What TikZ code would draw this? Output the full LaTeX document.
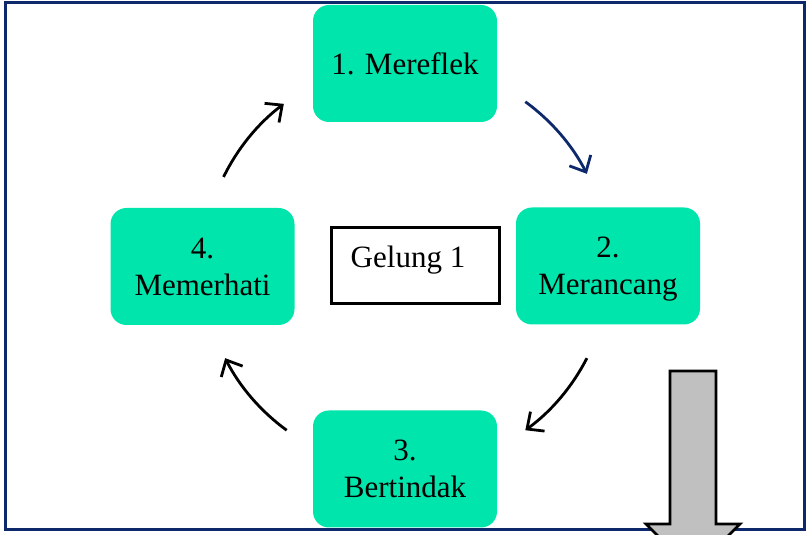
\documentclass[tikz,border=0pt]{standalone}
\usepackage{fontspec}
\setmainfont{Liberation Serif}
\usetikzlibrary{arrows.meta,calc}
\definecolor{boxgreen}{RGB}{0,229,172}
\definecolor{framenavy}{RGB}{14,40,108}
\definecolor{arrgray}{RGB}{192,192,192}
\begin{document}
\begin{tikzpicture}[x=1pt,y=1pt,
  stepbox/.style={draw=none, fill=boxgreen, rounded corners=16pt,
    minimum width=184pt, minimum height=117pt, inner sep=0pt,
    align=center, text depth=0pt, font=\fontsize{31}{37}\selectfont},
  labelfont/.style={font=\fontsize{31}{37}\selectfont},
  cyc/.style={line width=2.8pt, -{Straight Barb[length=13pt,width=24pt]}},
  ]
\useasboundingbox (0,0) rectangle (806,535);
% step boxes
\node[stepbox] (b1) at (405,471.5) {1. Mereflek};
\node[stepbox] (b2) at (608,269) {2.\\Merancang};
\node[stepbox] (b3) at (405,66) {3.\\Bertindak};
\node[stepbox] (b4) at (202.5,268.5) {4.\\Memerhati};
% centre box
\node[draw, line width=2.8pt, minimum width=168pt, minimum height=76pt, inner sep=0pt] (g) at (415.5,269.5) {};
\node[labelfont, anchor=base] (gt) at (408,267) {Gelung 1};
% cycle arrows
\coordinate (c) at (406,269);
\coordinate (a1) at ($(c)+(54:203)$);
\coordinate (a2) at ($(c)+(-27:203)$);
\coordinate (a3) at ($(c)+(234:203)$);
\coordinate (a4) at ($(c)+(154:203)$);
\draw[cyc, framenavy] (a1) arc[start angle=54, end angle=27, radius=203];
\draw[cyc] (a2) arc[start angle=-27, end angle=-54, radius=203];
\draw[cyc] (a3) arc[start angle=234, end angle=207, radius=203];
\draw[cyc] (a4) arc[start angle=154, end angle=127, radius=203];
% frame
\draw[framenavy, line width=3pt] (5.3,532.5) rectangle (804,5);
% big grey arrow
\draw[fill=arrgray, line width=2.8pt, line join=miter]
  (670,164) -- (716,164) -- (716,11) -- (740,11) -- (693,-36) -- (646,11) -- (670,11) -- cycle;
\end{tikzpicture}
\end{document}
